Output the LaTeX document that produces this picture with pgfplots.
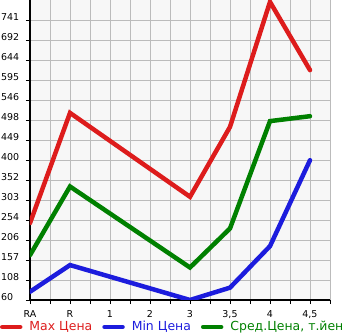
\documentclass[border=0pt]{standalone}
\usepackage{pgfplots}
\pgfplotsset{compat=1.18}
\usepackage{fontspec}
\setmainfont{DejaVu Sans}
\definecolor{cmax}{RGB}{221,28,28}
\definecolor{cmin}{RGB}{28,28,221}
\definecolor{cavg}{RGB}{0,128,0}
\definecolor{bgc}{RGB}{247,247,247}
\definecolor{gridc}{RGB}{187,187,187}
\begin{document}
\begin{tikzpicture}[x=1bp,y=1bp]
\begin{axis}[
  at={(0,0)}, anchor=south west,
  scale only axis, width=300bp, height=300bp,
  xmin=0, xmax=7.5, ymin=60, ymax=789.57,
  axis background/.style={fill=bgc},
  axis x line*=bottom, axis y line*=left,
  axis line style={line width=1.6bp, black, -},
  xtick={0,...,7}, xticklabels={RA,R,1,2,3,{3,5},4,{4,5}},
  minor xtick={0.5,1.5,...,7.5},
  ytick={60,108.64,157.29,205.93,254.57,303.21,351.86,400.5,449.14,497.79,546.43,595.07,643.71,692.36,741},
  yticklabels={60,108,157,206,254,303,352,400,449,498,546,595,644,692,741},
  grid=both,
  major grid style={gridc, line width=0.8bp},
  minor grid style={gridc, line width=0.8bp},
  tick style={black, line width=0.8bp},
  tick align=outside, major tick length=4bp, minor tick length=4bp,
  ticklabel style={font=\fontsize{9.5}{11}\selectfont},
  /pgf/number format/assume math mode=true,
  yticklabel style={anchor=west, inner sep=0pt, xshift=-25bp, yshift=3bp},
  xticklabel style={inner sep=0pt, yshift=-6bp},
  legend columns=3,
  legend style={at={(axis description cs:-0.1,-0.09)}, anchor=west, draw=none, fill=none,
    inner sep=0pt, outer sep=0pt, font=\fontsize{12.5}{14}\selectfont,
    /tikz/every even column/.append style={column sep=8bp},
    /tikz/every odd column/.append style={column sep=5bp}},
  legend image code/.code={\draw[line width=4.5bp, line cap=round] (2bp,0bp) -- (20bp,0bp);},
  every axis plot/.append style={line width=4.5bp, line join=miter, line cap=round},
]
\addplot[cmax] coordinates {(0,247) (1,515) (4,311) (5,481) (6,785) (7,619)};
\addlegendentry{\textcolor{cmax}{Max Цена}}
\addplot[cmin] coordinates {(0,80) (1,145) (4,60) (5,90) (6,191) (7,400)};
\addlegendentry{\textcolor{cmin}{Min Цена}}
\addplot[cavg] coordinates {(0,169) (1,336) (4,139) (5,234) (6,495) (7,507)};
\addlegendentry{\textcolor{cavg}{Сред.Цена, т.йен}}
\end{axis}
\pgfresetboundingbox
\path (-30bp,-35bp) rectangle (315bp,300bp);
\end{tikzpicture}
\end{document}
